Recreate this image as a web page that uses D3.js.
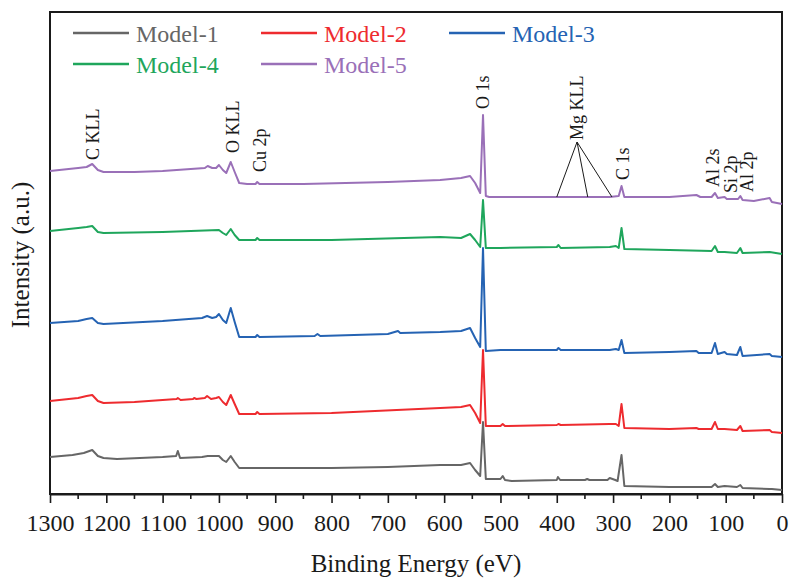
<!DOCTYPE html>
<html>
<head>
<meta charset="utf-8">
<script src="https://cdn.jsdelivr.net/npm/d3@7"></script>
<style>
  html, body { margin: 0; padding: 0; background: #fff; }
  svg { display: block; }
</style>
</head>
<body>
<svg id="chart" width="790" height="579" style="font-family: 'Liberation Serif', serif"></svg>
<script>
// ---------------- DATA ----------------
const seriesNames = ["Model-1", "Model-2", "Model-3", "Model-4", "Model-5"];
const seriesColors = ["#666666", "#ee2b2f", "#2563b3", "#1fa65c", "#9a70b8"];

// [binding energy (eV), intensity (a.u., stacked/offset as plotted)]
const model1 = [[1300,43],[1260,45],[1240,47],[1225,50],[1215,44],[1205,42],[1181,41],[1100,43],[1076,44],[1073,49],[1069,42],[1030,43],[1020,44],[1000,44],[993,40],[987,38],[979,44],[972,38],[964,32],[900,32],[800,32],[700,33],[607,35],[570,35],[554,37],[545,30],[536,24],[531,78],[526,21],[500,21],[496,24],[492,20],[480,19],[400,20],[398,23],[394,20],[350,20],[346,21],[342,20],[310,20],[306,22],[296,20],[292,19],[285,45],[280,14],[200,13],[152,13],[148,13],[125,13],[119,16],[114,13],[102,14],[80,13],[74,15],[70,12],[22,11],[18,11],[0,10]];
const model2 = [[1300,99],[1250,102],[1235,104],[1225,105],[1215,99],[1205,97],[1150,98],[1075,101],[1073,102],[1068,100],[1046,101],[1044,102],[1040,101],[1025,102],[1021,104],[1014,101],[1005,102],[1000,103],[993,98],[987,95],[979,105],[972,96],[964,86],[935,86],[932,88],[928,86],[800,87],[607,92],[570,93],[554,95],[545,87],[536,77],[531,150],[526,74],[500,74],[496,76],[492,74],[400,75],[397,76],[393,75],[306,76],[295,76],[290,74],[285,96],[280,72],[200,71],[152,72],[148,71],[125,71],[119,78],[114,71],[102,71],[80,70],[74,74],[70,69],[22,70],[18,68],[0,67]];
const model3 = [[1300,177],[1250,179],[1235,181],[1225,182],[1215,177],[1205,176],[1100,179],[1030,182],[1021,184],[1012,182],[1005,183],[1000,186],[993,180],[987,177],[979,192],[972,178],[964,163],[935,163],[932,165],[928,163],[830,164],[825,166],[820,164],[700,166],[682,169],[678,167],[607,168],[570,169],[554,172],[545,162],[536,153],[531,252],[526,149],[500,150],[400,150],[397,152],[393,150],[306,150],[295,151],[290,150],[285,160],[280,147],[200,148],[152,149],[148,147],[125,147],[119,157],[114,146],[102,148],[98,146],[80,145],[74,153],[70,144],[22,146],[18,144],[0,143]];
const model4 = [[1300,269],[1250,272],[1235,273],[1225,274],[1215,268],[1205,267],[1100,268],[1000,270],[993,267],[987,265],[979,271],[972,265],[964,260],[935,260],[932,262],[928,260],[800,260],[607,263],[570,262],[554,266],[545,260],[536,253],[531,300],[526,252],[500,252],[400,253],[397,255],[393,252],[306,253],[295,254],[290,252],[285,272],[280,251],[200,250],[125,249],[119,254],[114,248],[102,248],[80,247],[74,252],[70,247],[22,248],[0,246]];
const model5 = [[1300,329],[1250,332],[1235,333],[1225,336],[1215,330],[1205,328],[1150,328],[1100,329],[1050,331],[1025,332],[1020,334],[1012,332],[1005,332],[1000,335],[993,330],[987,327],[979,338],[972,328],[964,317],[950,316],[935,316],[932,318],[928,316],[850,316],[700,318],[607,320],[570,322],[554,324],[545,317],[536,307],[531,385],[526,304],[520,303],[500,303],[400,303],[350,303],[306,303],[290,304],[285,314],[280,303],[200,303],[152,305],[145,303],[125,303],[119,307],[114,302],[102,303],[98,301],[78,301],[74,304],[70,300],[50,299],[22,302],[18,298],[0,296]];
const allSeries = [model1, model2, model3, model4, model5];

const xTickValues = [1300,1200,1100,1000,900,800,700,600,500,400,300,200,100,0];
const xMinorTicks = [1250,1150,1050,950,850,750,650,550,450,350,250,150,50];

// peak annotations: label, energy (eV), intensity level of label foot
const peakLabels = ["C KLL", "O KLL", "Cu 2p", "O 1s", "Mg KLL", "C 1s", "Al 2s", "Si 2p", "Al 2p"];
const peakEnergies = [1224, 975, 927, 531, 364, 282, 123, 91, 62];
const peakLevels = [340, 347, 328, 391, 360, 320, 313, 307, 308];
const mgKllTargets = [400, 345, 302];
const mgKllTargetLevel = 303;

// ---------------- LAYOUT ----------------
const FONT = "'Liberation Serif', serif";
const svg = d3.select("#chart");
const mLeft = 50, mRight = 782, mTop = 12, mBottom = 494;

const x = d3.scaleLinear().domain([1300, 0]).range([mLeft, mRight]);
const y = d3.scaleLinear().domain([6, 488]).range([mBottom, mTop]);

// frame
svg.append("rect")
  .attr("x", mLeft).attr("y", mTop)
  .attr("width", mRight - mLeft).attr("height", mBottom - mTop)
  .attr("fill", "none").attr("stroke", "#1a1a1a").attr("stroke-width", 2);

// series lines
const line = d3.line().x(d => x(d[0])).y(d => y(d[1]));
allSeries.forEach((s, i) => {
  svg.append("path")
    .datum(s)
    .attr("d", line)
    .attr("fill", "none")
    .attr("stroke", seriesColors[i])
    .attr("stroke-width", 2)
    .attr("stroke-linejoin", "round");
});

// x axis
const xAxis = d3.axisBottom(x).tickValues(xTickValues).tickSize(9).tickSizeOuter(0).tickFormat(d3.format("d"));
const gx = svg.append("g").attr("transform", `translate(0,${mBottom})`).call(xAxis);
gx.attr("font-family", null).attr("font-size", null);
gx.select(".domain").attr("stroke", "#1a1a1a").attr("stroke-width", 2);
gx.selectAll(".tick line").attr("stroke", "#1a1a1a").attr("stroke-width", 1.6);
gx.selectAll(".tick text")
  .attr("y", 37).attr("dy", null)
  .attr("fill", "#1a1a1a")
  .style("font-family", FONT)
  .style("font-size", "24px");

svg.append("g").selectAll("line").data(xMinorTicks).join("line")
  .attr("x1", d => x(d)).attr("x2", d => x(d))
  .attr("y1", mBottom).attr("y2", mBottom + 5)
  .attr("stroke", "#1a1a1a").attr("stroke-width", 1.6);

// axis titles
svg.append("text")
  .attr("x", (mLeft + mRight) / 2).attr("y", 572)
  .attr("text-anchor", "middle")
  .style("font-family", FONT)
  .style("font-size", "25px").attr("fill", "#1a1a1a")
  .text("Binding Energy (eV)");

svg.append("text")
  .attr("transform", "translate(21,255) rotate(-90)")
  .attr("text-anchor", "middle").attr("dy", "0.33em")
  .style("font-family", FONT)
  .style("font-size", "25px").attr("fill", "#1a1a1a")
  .text("Intensity (a.u.)");

// peak labels
peakLabels.forEach((lab, i) => {
  svg.append("text")
    .attr("transform", `translate(${x(peakEnergies[i])},${y(peakLevels[i])}) rotate(-90)`)
    .attr("text-anchor", "start").attr("dy", "0.33em")
    .style("font-family", FONT)
    .style("font-size", "18px").attr("fill", "#1a1a1a")
    .text(lab);
});

// Mg KLL leader lines
const mgIdx = peakLabels.indexOf("Mg KLL");
mgKllTargets.forEach(e => {
  svg.append("line")
    .attr("x1", x(peakEnergies[mgIdx])).attr("y1", y(peakLevels[mgIdx]) + 2)
    .attr("x2", x(e)).attr("y2", y(mgKllTargetLevel))
    .attr("stroke", "#1a1a1a").attr("stroke-width", 1);
});

// legend
const legendCols = [73, 261, 449];
const legendRows = [33, 64];
seriesNames.forEach((name, i) => {
  const cx = legendCols[i % 3], cy = legendRows[Math.floor(i / 3)];
  svg.append("line")
    .attr("x1", cx).attr("x2", cx + 56)
    .attr("y1", cy).attr("y2", cy)
    .attr("stroke", seriesColors[i]).attr("stroke-width", 2.5);
  svg.append("text")
    .attr("x", cx + 63).attr("y", cy + 9)
    .style("font-family", FONT)
    .style("font-size", "24px").attr("fill", seriesColors[i])
    .text(name);
});
</script>
</body>
</html>
